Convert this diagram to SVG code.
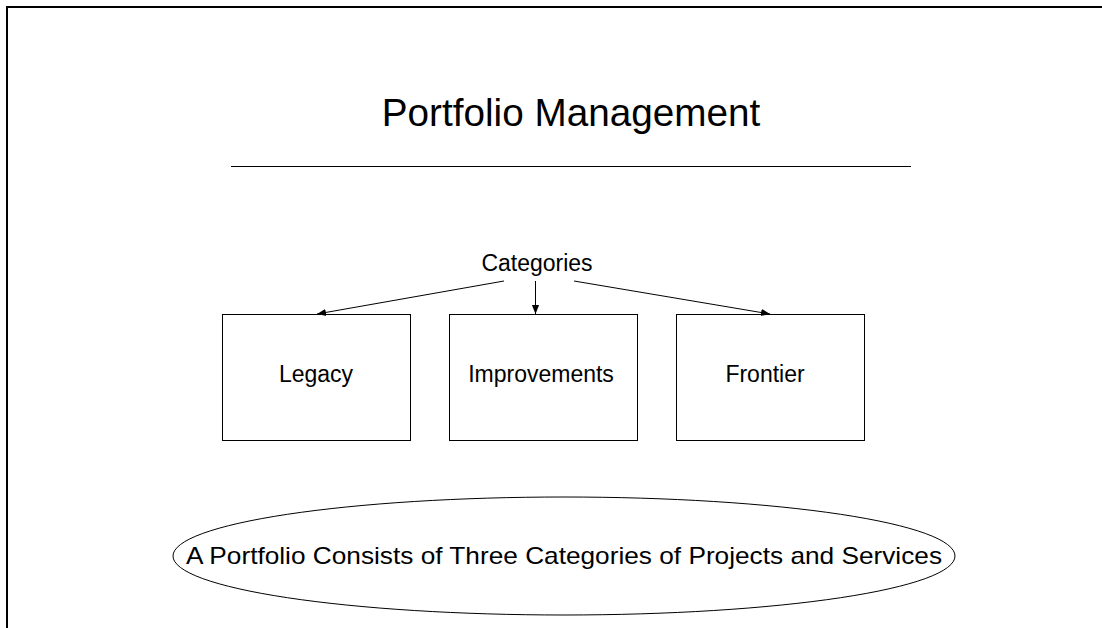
<svg xmlns="http://www.w3.org/2000/svg" width="1102" height="628" viewBox="0 0 1102 628">
<style>
text{font-family:"Liberation Sans",Arial,sans-serif;fill:#000}
.box{fill:#fff;stroke:#000;stroke-width:1}
.lbl{font-size:23px;text-anchor:middle}
.conn{stroke:#000;stroke-width:1;fill:none;marker-end:url(#ah)}
</style>
<defs>
<marker id="ah" viewBox="0 0 10 10" refX="10" refY="5" markerWidth="9" markerHeight="9" markerUnits="userSpaceOnUse" orient="auto">
<path d="M0,1 L10,5 L0,9 Z" fill="#000"/>
</marker>
</defs>
<rect x="0" y="0" width="1102" height="628" fill="#fff"/>
<path d="M7,628 V7 H1102" fill="none" stroke="#000" stroke-width="2"/>
<g id="title">
<text x="571" y="126" font-size="38.7" text-anchor="middle">Portfolio Management</text>
<line x1="231" y1="166.5" x2="911" y2="166.5" stroke="#000" stroke-width="1"/>
</g>
<g id="categories">
<text class="lbl" x="537" y="271">Categories</text>
</g>
<g id="legacy">
<rect class="box" x="222.5" y="314.5" width="188" height="126"/>
<text class="lbl" x="316" y="382">Legacy</text>
</g>
<g id="improvements">
<rect class="box" x="449.5" y="314.5" width="188" height="126"/>
<text class="lbl" x="541" y="382">Improvements</text>
</g>
<g id="frontier">
<rect class="box" x="676.5" y="314.5" width="188" height="126"/>
<text class="lbl" x="765" y="382">Frontier</text>
</g>
<g id="summary">
<ellipse cx="564" cy="556" rx="391" ry="59" fill="#fff" stroke="#000" stroke-width="1"/>
<text x="564" y="564" font-size="24" text-anchor="middle" textLength="756" lengthAdjust="spacingAndGlyphs">A Portfolio Consists of Three Categories of Projects and Services</text>
</g>
<g id="connectors">
<line class="conn" x1="504" y1="281" x2="317" y2="314"/>
<line class="conn" x1="535.5" y1="281" x2="535.5" y2="314"/>
<line class="conn" x1="574" y1="281" x2="770" y2="314"/>
</g>
</svg>
